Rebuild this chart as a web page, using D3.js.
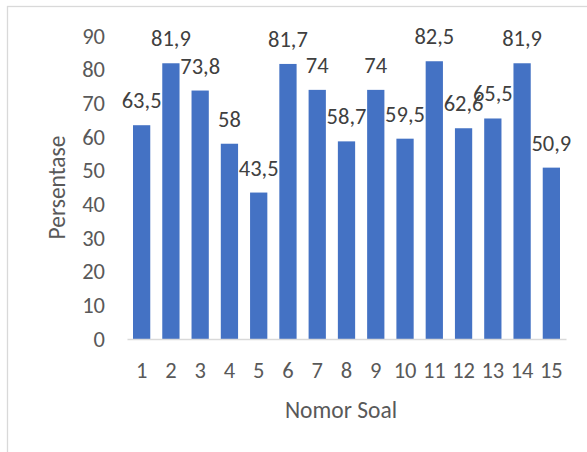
<!DOCTYPE html>
<html>
<head>
<meta charset="utf-8">
<script src="https://cdn.jsdelivr.net/npm/d3@7"></script>
<style>
  html, body { margin: 0; padding: 0; background: #fff; }
  svg { display: block; }
  text { font-family: Calibri, Carlito, Lato, sans-serif; }
</style>
</head>
<body>
<svg id="chart" width="587" height="452"></svg>
<script>
// Question numbers and the percentage score for each question
const categories = ["1","2","3","4","5","6","7","8","9","10","11","12","13","14","15"];
const values = [63.5, 81.9, 73.8, 58, 43.5, 81.7, 74, 58.7, 74, 59.5, 82.5, 62.6, 65.5, 81.9, 50.9];
const yTicks = [0, 10, 20, 30, 40, 50, 60, 70, 80, 90];
const yTitle = "Persentase";
const xTitle = "Nomor Soal";

const svg = d3.select("#chart");
const W = 587, H = 452;
const plot = { left: 127, right: 566, top: 36, bottom: 339 };
const FONT = "Calibri, Carlito, Lato, sans-serif";

// Chart area outline
svg.append("rect")
  .attr("x", 7.5).attr("y", 6.5)
  .attr("width", W + 20).attr("height", H + 20)
  .attr("fill", "#fff").attr("stroke", "#D9D9D9").attr("stroke-width", 1.3);

const x = d3.scaleBand()
  .domain(categories)
  .range([plot.left, plot.right])
  .paddingInner(0.41)
  .paddingOuter(0.205);

const y = d3.scaleLinear()
  .domain([0, 90])
  .range([plot.bottom, plot.top]);

const fmt = v => String(v).replace(".", ",");

// Bars
svg.append("g").selectAll("rect")
  .data(values)
  .join("rect")
  .attr("x", (d, i) => x(categories[i]))
  .attr("y", d => y(d))
  .attr("width", x.bandwidth())
  .attr("height", d => y(0) - y(d))
  .attr("fill", "#4472C4");

// Value labels above each bar
svg.append("g").selectAll("text")
  .data(values)
  .join("text")
  .attr("x", (d, i) => x(categories[i]) + x.bandwidth() / 2)
  .attr("y", d => y(d) - 17)
  .attr("text-anchor", "middle")
  .attr("font-size", 22.5)
  .attr("fill", "#404040")
  .text(d => fmt(d));

// Y axis (labels only, no line)
const yAxis = d3.axisLeft(y).tickValues(yTicks).tickSize(0).tickPadding(0);
const gy = svg.append("g")
  .attr("transform", `translate(${plot.left - 22},0)`)
  .call(yAxis);
gy.select(".domain").remove();
gy.selectAll("text")
  .attr("font-size", 22.5)
  .attr("fill", "#595959")
  .style("font-family", FONT);

// X axis with baseline
const xAxis = d3.axisBottom(x).tickSize(0).tickPadding(0);
const gx = svg.append("g")
  .attr("transform", `translate(0,${plot.bottom})`)
  .call(xAxis);
gx.select(".domain")
  .attr("stroke", "#D9D9D9")
  .attr("stroke-width", 1.3);
gx.selectAll("text")
  .attr("dy", null)
  .attr("y", 39)
  .attr("font-size", 22.5)
  .attr("fill", "#595959")
  .style("font-family", FONT);

// Axis titles
svg.append("text")
  .attr("transform", "translate(65,187.5) rotate(-90)")
  .attr("text-anchor", "middle")
  .attr("font-size", 23.5)
  .attr("fill", "#595959")
  .text(yTitle);

svg.append("text")
  .attr("x", 341)
  .attr("y", 418)
  .attr("text-anchor", "middle")
  .attr("font-size", 23.5)
  .attr("fill", "#595959")
  .text(xTitle);
</script>
</body>
</html>
